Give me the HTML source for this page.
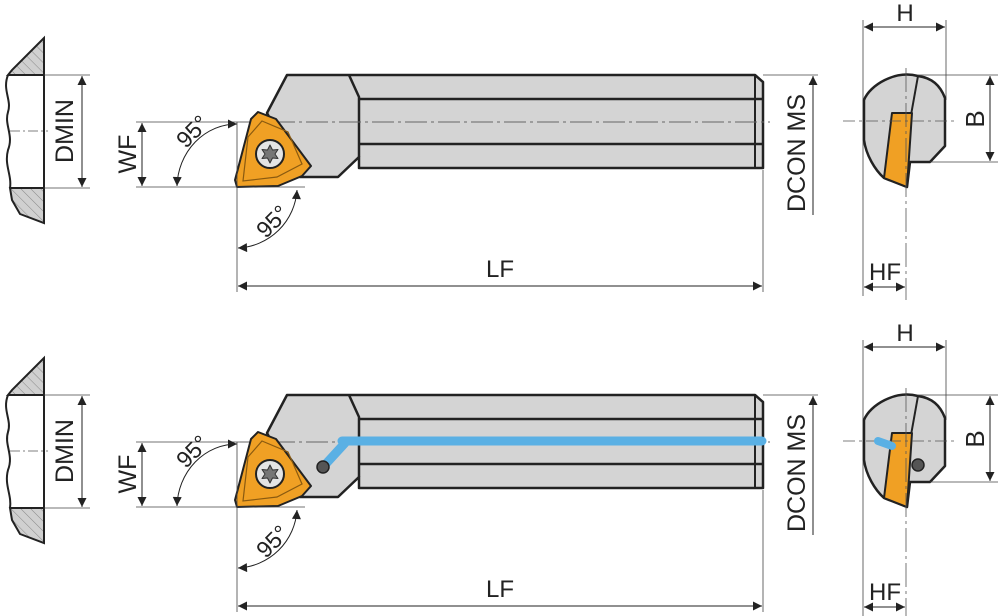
<!DOCTYPE html>
<html><head><meta charset="utf-8"><style>
html,body{margin:0;padding:0;background:#fff;}
svg{display:block;}
text{font-family:"Liberation Sans",sans-serif;fill:#222;}
</style></head><body>
<svg width="1000" height="616" viewBox="0 0 1000 616" xmlns="http://www.w3.org/2000/svg">
<defs>
<marker id="a" viewBox="0 0 10 10" refX="10" refY="5" markerWidth="14" markerHeight="9" markerUnits="userSpaceOnUse" orient="auto-start-reverse"><path d="M0,0 L10,5 L0,10 z" fill="#222"/></marker>
<pattern id="h" width="7" height="7" patternUnits="userSpaceOnUse" patternTransform="rotate(-45)"><rect width="7" height="7" fill="#d0d0d0"/><line x1="0" y1="0" x2="0" y2="7" stroke="#888" stroke-width="1"/></pattern>
<g id="tool">
  <path d="M44,38 L12,70 L8,75 L44,75 Z" fill="url(#h)" stroke="#222" stroke-width="2"/>
  <path d="M10,188 L44,188 L44,223 L20,214 L12,200 Z" fill="url(#h)" stroke="#222" stroke-width="2"/>
  <path d="M8,75 C2,90 12,100 8,112 C4,125 14,135 8,150 C4,165 12,175 10,188" fill="none" stroke="#222" stroke-width="2"/>
  <line x1="44" y1="38" x2="44" y2="223" stroke="#222" stroke-width="2"/>
  <line x1="44" y1="75" x2="90" y2="75" stroke="#444" stroke-width="0.8"/>
  <line x1="44" y1="188" x2="90" y2="188" stroke="#444" stroke-width="0.8"/>
  <line x1="82" y1="76" x2="82" y2="187" stroke="#222" stroke-width="1" marker-start="url(#a)" marker-end="url(#a)"/>
  <line x1="10" y1="131" x2="48" y2="131" stroke="#555" stroke-width="0.8" stroke-dasharray="10,3,2,3"/>
  <text font-size="25" text-anchor="middle" transform="translate(73,131) rotate(-90)">DMIN</text>
  <path d="M287,75 L755,75 L763,82 L763,168 L359,168 L359,157 L338,177 L300,177 L267,113 Z" fill="#d4d4d4" stroke="#222" stroke-width="2.5" stroke-linejoin="round"/>
  <path d="M349,75 L359,97 L359,157" fill="none" stroke="#222" stroke-width="2.5"/>
  <line x1="359" y1="99" x2="763" y2="99" stroke="#222" stroke-width="2.5"/>
  <line x1="359" y1="144" x2="763" y2="144" stroke="#222" stroke-width="2.5"/>
  <line x1="755" y1="75" x2="755" y2="168" stroke="#222" stroke-width="2"/>
  <line x1="240" y1="122" x2="770" y2="122" stroke="#666" stroke-width="1" stroke-dasharray="22,4,3,4"/>
  <path d="M258,112 L276,119 L311,166 L302,176 L278,186 L237,187 L235,180 L251,119 Z" fill="#f0a024" stroke="#222" stroke-width="2" stroke-linejoin="round"/>
  <path d="M262,121 L288,132 L302,164 L277,177 L243,181 L248,137 Z" fill="none" stroke="#8a5a10" stroke-width="1.2"/>
  <circle cx="270" cy="154" r="14" fill="#e4e4e4" stroke="#222" stroke-width="2"/>
  <path d="M270,145 L272.5,150 L278,149.5 L275,154 L278,158.5 L272.5,158 L270,163 L267.5,158 L262,158.5 L265,154 L262,149.5 L267.5,150 Z" fill="#777" stroke="#333" stroke-width="1" stroke-linejoin="round"/>
  <line x1="136" y1="122" x2="240" y2="122" stroke="#444" stroke-width="0.8"/>
  <line x1="136" y1="187" x2="305" y2="187" stroke="#444" stroke-width="0.8"/>
  <line x1="142" y1="123" x2="142" y2="186" stroke="#222" stroke-width="1" marker-start="url(#a)" marker-end="url(#a)"/>
  <text font-size="25" text-anchor="middle" transform="translate(136,154) rotate(-90)">WF</text>
  <line x1="237" y1="122" x2="237" y2="292" stroke="#444" stroke-width="0.8"/>
  <path d="M177,186 A60,64 0 0 1 237,124" fill="none" stroke="#222" stroke-width="1" marker-start="url(#a)" marker-end="url(#a)"/>
  <text font-size="23" text-anchor="middle" transform="translate(198,137) rotate(-45)">95°</text>
  <path d="M297,190 A62,62 0 0 1 238,248" fill="none" stroke="#222" stroke-width="1" marker-start="url(#a)" marker-end="url(#a)"/>
  <text font-size="23" text-anchor="middle" transform="translate(278,227) rotate(-45)">95°</text>
  <line x1="763" y1="170" x2="763" y2="292" stroke="#444" stroke-width="0.8"/>
  <line x1="238" y1="286" x2="762" y2="286" stroke="#222" stroke-width="1" marker-start="url(#a)" marker-end="url(#a)"/>
  <text x="500" y="277" font-size="24" text-anchor="middle">LF</text>
  <line x1="763" y1="75" x2="818" y2="75" stroke="#444" stroke-width="0.8"/>
  <line x1="813" y1="76" x2="813" y2="215" stroke="#222" stroke-width="1" marker-start="url(#a)"/>
  <text font-size="25" text-anchor="middle" transform="translate(805,153) rotate(-90)">DCON MS</text>
  <line x1="863" y1="20" x2="863" y2="296" stroke="#444" stroke-width="0.8"/>
  <line x1="946" y1="20" x2="946" y2="100" stroke="#444" stroke-width="0.8"/>
  <line x1="864" y1="27" x2="945" y2="27" stroke="#222" stroke-width="1" marker-start="url(#a)" marker-end="url(#a)"/>
  <text x="905" y="21" font-size="24" text-anchor="middle">H</text>
  <path d="M918,76 C895,70 870,85 864,100 L864,140 C866,155 875,170 884,178 L907,187 L910,162 L930,162 L945,146 L945,98 C940,85 932,78 918,76 Z" fill="#d4d4d4" stroke="#222" stroke-width="2.5" stroke-linejoin="round"/>
  <line x1="918" y1="76" x2="911" y2="115" stroke="#222" stroke-width="2"/>
  <path d="M892,113 L912,113 L907,187 L884,178 Z" fill="#f0a024" stroke="#222" stroke-width="2" stroke-linejoin="round"/>
  <line x1="906" y1="68" x2="906" y2="300" stroke="#555" stroke-width="0.8" stroke-dasharray="24,4,3,4"/>
  <line x1="843" y1="121" x2="958" y2="121" stroke="#555" stroke-width="0.8" stroke-dasharray="12,4,3,4"/>
  <line x1="918" y1="75" x2="998" y2="75" stroke="#444" stroke-width="0.8"/>
  <line x1="930" y1="162" x2="998" y2="162" stroke="#444" stroke-width="0.8"/>
  <line x1="990" y1="76" x2="990" y2="161" stroke="#222" stroke-width="1" marker-start="url(#a)" marker-end="url(#a)"/>
  <text font-size="26" text-anchor="middle" transform="translate(984,119) rotate(-90)">B</text>
  <line x1="864" y1="287" x2="905" y2="287" stroke="#222" stroke-width="1" marker-start="url(#a)" marker-end="url(#a)"/>
  <text x="885" y="280" font-size="24" text-anchor="middle">HF</text>
</g>
</defs>
<use href="#tool"/>
<g transform="translate(0,320)">
  <use href="#tool"/>
  <path d="M342,121 L762,121" stroke="#5ab0e4" stroke-width="9" stroke-linecap="round"/>
  <path d="M323,147 L345,123" stroke="#5ab0e4" stroke-width="9" stroke-linecap="round"/>
  <circle cx="323" cy="147" r="6" fill="#555" stroke="#222" stroke-width="1.5"/>
  <path d="M878,121 L892,126" stroke="#5ab0e4" stroke-width="8" stroke-linecap="round"/>
  <circle cx="918" cy="145" r="6" fill="#555" stroke="#222" stroke-width="1.5"/>
</g>
</svg>
</body></html>
